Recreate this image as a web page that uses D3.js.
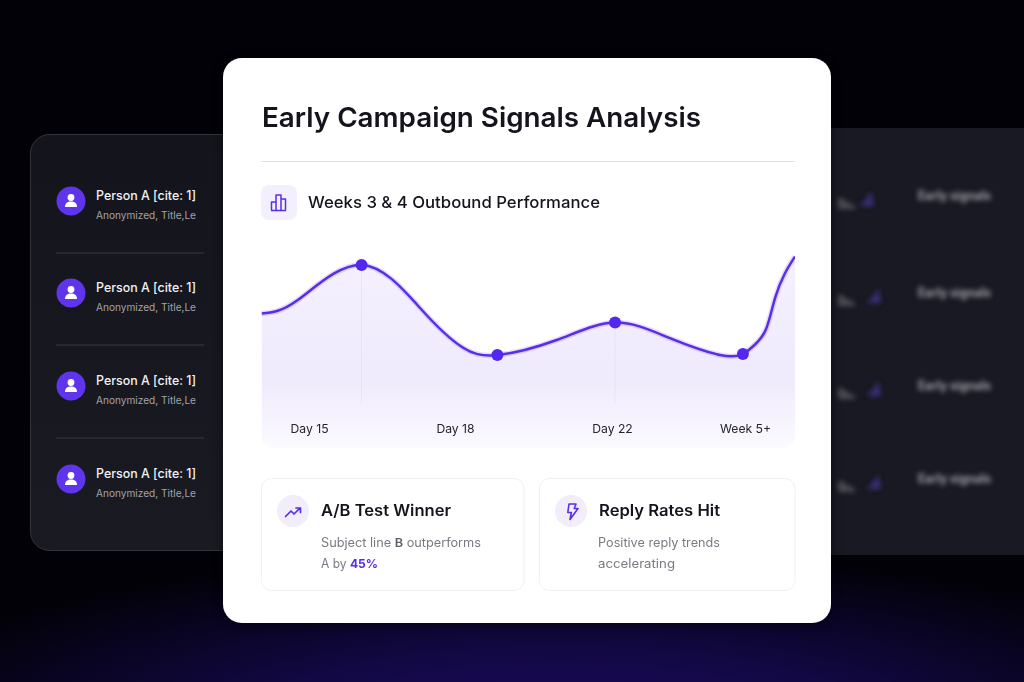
<!DOCTYPE html>
<html>
<head>
<meta charset="utf-8">
<style>
  html, body { margin: 0; padding: 0; background: #000; overflow: hidden; }
  svg { display: block; }
  text { font-family: "Inter", "Noto Sans", sans-serif; }
</style>
<script src="https://cdn.jsdelivr.net/npm/d3@7/dist/d3.min.js"></script>
</head>
<body>
<svg id="page" width="1024" height="682"></svg>
<script>
// Daily signal curve: day position and score (0-100)
const curveDays   = [14.03, 14.77, 16.08, 17.32, 18.17, 19.08, 20.59, 22.16, 25.05, 27.68, 28.89, 29.53, 30.11, 30.58, 31.11, 31.63];
const curveScores = [67.3, 74, 91.5, 69, 50.6, 46.5, 54, 62.7, 54.9, 46.5, 47, 51.8, 59.5, 74.9, 87.5, 95.7];
// Highlighted checkpoints on the curve
const markerDays   = [16.08, 19.08, 22.16, 28.89];
const markerScores = [91.5, 46.5, 62.7, 47];
// Thin guide lines under two of the checkpoints
const guideDays   = [16.08, 22.16];
const guideScores = [91.5, 62.7];
// Axis labels
const tickDays   = [15, 18, 22, 29];
const tickLabels = ["Day 15", "Day 18", "Day 22", "Week 5+"];
// Side panels
const peopleRows = ["Person A [cite: 1]", "Person A [cite: 1]", "Person A [cite: 1]", "Person A [cite: 1]"];
const peopleSub  = "Anonymized, Title,Le";
const signalRows = ["Early signals", "Early signals", "Early signals", "Early signals"];

const PURPLE = "#5a2de6", DOT = "#5427ef", INK = "#14141c";
const svg = d3.select("#page");
const defs = svg.append("defs");

function linearGrad(id, stops, x2 = 0, y2 = 1) {
  const g = defs.append("linearGradient").attr("id", id).attr("x1", 0).attr("y1", 0).attr("x2", x2).attr("y2", y2);
  stops.forEach(s => g.append("stop").attr("offset", s[0]).attr("stop-color", s[1]).attr("stop-opacity", s[2] ?? 1));
}
linearGrad("areaFill", [[0, "#7a4fe8", 0.085], [0.65, "#7a4fe8", 0.115], [0.85, "#7a4fe8", 0.07], [1, "#7a4fe8", 0.025]]);
linearGrad("panelFill", [[0, "#14151c"], [1, "#191a22"]]);
const glow = defs.append("radialGradient").attr("id", "bottomGlow")
  .attr("gradientUnits", "userSpaceOnUse").attr("cx", 0).attr("cy", 0).attr("r", 1)
  .attr("gradientTransform", "translate(560 730) scale(720 180)");
glow.append("stop").attr("offset", 0).attr("stop-color", "#1c0b62");
glow.append("stop").attr("offset", 0.45).attr("stop-color", "#120843");
glow.append("stop").attr("offset", 1).attr("stop-color", "#020107");
defs.append("filter").attr("id", "soft").attr("x", "-30%").attr("y", "-60%").attr("width", "160%").attr("height", "220%")
  .append("feGaussianBlur").attr("stdDeviation", 2.4);
const sh = defs.append("filter").attr("id", "cardShadow").attr("x", "-10%").attr("y", "-10%").attr("width", "120%").attr("height", "120%");
sh.append("feDropShadow").attr("dx", 0).attr("dy", 2).attr("stdDeviation", 5).attr("flood-color", "#000").attr("flood-opacity", 0.5);
defs.append("clipPath").attr("id", "bandClip").append("path")
  .attr("d", "M261 230H795V436a12 12 0 0 1-12 12H273a12 12 0 0 1-12-12Z");

// Text helper: fixes the run length so the line occupies a known width
function label(parent, str, x, y, size, weight, fill, width, anchor) {
  const t = parent.append("text").attr("x", x).attr("y", y).attr("font-size", size)
    .attr("font-weight", weight).attr("fill", fill).text(str);
  if (width) t.attr("textLength", width).attr("lengthAdjust", "spacingAndGlyphs");
  if (anchor) t.attr("text-anchor", anchor);
  return t;
}

// Backdrop
svg.append("rect").attr("width", 1024).attr("height", 682).attr("fill", "#020107");
svg.append("rect").attr("width", 1024).attr("height", 682).attr("fill", "url(#bottomGlow)");

// Right panel, out of focus behind the card
svg.append("rect").attr("x", 800).attr("y", 128).attr("width", 260).attr("height", 427).attr("rx", 3).attr("fill", "#181922");
const right = svg.append("g").attr("filter", "url(#soft)");
const purpleShift = [0, 7, 7, 7];
signalRows.forEach((s, i) => {
  const g = right.append("g").attr("transform", `translate(0,${[196, 293, 386, 479][i]})`);
  label(g, s, 918, 4, 12.5, 700, "#a2a2a9", 73);
  g.append("path").attr("d", "M838 13V2h6V13ZM844 13V6h6V13ZM850 13V9h5V13Z").attr("fill", "#4b4c53");
  g.append("path").attr("d", "M859 10L866 4L871 -5L874 10Z").attr("fill", "#3a2f78")
    .attr("transform", `translate(${purpleShift[i]},0)`);
});

// Left panel with the people list
svg.append("rect").attr("x", 30.5).attr("y", 134.5).attr("width", 260).attr("height", 416).attr("rx", 19)
  .attr("fill", "url(#panelFill)").attr("stroke", "#33343b");
const rowCentres = [201, 293, 386, 479];
peopleRows.forEach((name, i) => {
  const cy = rowCentres[i];
  const g = svg.append("g").attr("transform", `translate(0,${cy})`);
  g.append("circle").attr("cx", 71).attr("cy", 0).attr("r", 14.5).attr("fill", "#5f35ec");
  g.append("circle").attr("cx", 71).attr("cy", -3.5).attr("r", 3.4).attr("fill", "#fff");
  g.append("path").attr("d", "M65 6c0-3.6 2.6-5.4 6-5.4s6 1.8 6 5.4Z").attr("fill", "#fff");
  label(g, name, 96, -1, 12.8, 500, "#f1f1f4", 100);
  label(g, peopleSub, 96, 18, 10.4, 400, "#a3a3ac", 100);
  if (i < 3) g.append("line").attr("x1", 56).attr("x2", 204).attr("y1", 52).attr("y2", 52).attr("stroke", "#393a41");
});

// Main card
svg.append("rect").attr("x", 223).attr("y", 58).attr("width", 608).attr("height", 565).attr("rx", 19)
  .attr("fill", "#fff").attr("filter", "url(#cardShadow)");
label(svg, "Early Campaign Signals Analysis", 262, 127, 27.5, 600, INK, 439);
svg.append("line").attr("x1", 261).attr("x2", 795).attr("y1", 161.5).attr("y2", 161.5).attr("stroke", "#e2e2e6");

// Section heading with bar-chart badge
svg.append("rect").attr("x", 261).attr("y", 185).attr("width", 36).attr("height", 35).attr("rx", 8).attr("fill", "#f3effc");
svg.append("path").attr("d", "M271.5 210v-8h4.5v8M276 210v-15h5v15M281 210v-11h4.5v11M271 210.5h15")
  .attr("fill", "none").attr("stroke", PURPLE).attr("stroke-width", 1.5).attr("stroke-linejoin", "round");
label(svg, "Weeks 3 & 4 Outbound Performance", 308, 208, 16.5, 500, INK, 292);

// Chart: the day axis is piecewise because the checkpoints are unevenly spaced
const x = d3.scaleLinear().domain(tickDays).range([309, 455, 612, 745]);
const y = d3.scaleLinear().domain([0, 100]).range([448, 248]);
const pts = curveDays.map((d, i) => [x(d), y(curveScores[i])]);
const smooth = d3.curveNatural;

const plot = svg.append("g").attr("clip-path", "url(#bandClip)");
plot.append("path")
  .attr("d", d3.area().x(d => d[0]).y0(y(0)).y1(d => d[1]).curve(smooth)(pts))
  .attr("fill", "url(#areaFill)");
guideDays.forEach((d, i) => {
  plot.append("line").attr("x1", x(d)).attr("x2", x(d)).attr("y1", y(guideScores[i])).attr("y2", 405)
    .attr("stroke", "#5a2de6").attr("stroke-opacity", 0.05);
});
const lineGen = d3.line().curve(smooth);
plot.append("path").attr("d", lineGen(pts)).attr("fill", "none").attr("stroke", "#7a4fe8")
  .attr("stroke-opacity", 0.2).attr("stroke-width", 5.5);
plot.append("path").attr("d", lineGen(pts)).attr("fill", "none").attr("stroke", PURPLE).attr("stroke-width", 2.5);
svg.selectAll(".marker").data(markerDays).enter().append("circle").attr("class", "marker")
  .attr("cx", d => x(d)).attr("cy", (d, i) => y(markerScores[i])).attr("r", 6).attr("fill", DOT);

const axis = d3.axisBottom(x).tickValues(tickDays).tickSize(0)
  .tickFormat((d, i) => tickLabels[i]);
const axisG = svg.append("g").attr("transform", "translate(0,420)").call(axis);
axisG.select(".domain").remove();
axisG.selectAll("text").attr("font-family", "Inter, sans-serif").attr("font-size", 12.2).attr("fill", "#24242c").attr("dy", 0).attr("y", 13);

// Summary cards
function summaryCard(cx0, w, title, titleW) {
  svg.append("rect").attr("x", cx0 + .5).attr("y", 478.5).attr("width", w).attr("height", 112).attr("rx", 10)
    .attr("fill", "#fff").attr("stroke", "#f1f0f5");
  svg.append("circle").attr("cx", cx0 + 32).attr("cy", 511).attr("r", 16).attr("fill", "#f1edfb");
  label(svg, title, cx0 + 60, 516, 16, 600, INK, titleW);
}
summaryCard(261, 262.5, "A/B Test Winner", 130);
summaryCard(539, 255.5, "Reply Rates Hit", 121);
svg.append("path").attr("d", "M285.5 516.5l5.5-5.5 3 3 6-6M296 508h4.5v4.5")
  .attr("fill", "none").attr("stroke", PURPLE).attr("stroke-width", 1.7).attr("stroke-linecap", "round").attr("stroke-linejoin", "round");
svg.append("path").attr("d", "M569 504h7l-1.8 4.5h3.8l-8 11 1.4-7h-3.6Z")
  .attr("fill", "none").attr("stroke", PURPLE).attr("stroke-width", 1.6).attr("stroke-linejoin", "round");

const GREY = "#7b7a83";
const l1 = label(svg, "", 321, 547, 12.4, 400, GREY, 160);
l1.append("tspan").text("Subject line ");
l1.append("tspan").attr("font-weight", 600).attr("fill", "#5f5e6a").text("B");
l1.append("tspan").text(" outperforms");
const l2 = label(svg, "", 321, 568, 12.4, 400, GREY, 57);
l2.append("tspan").text("A by ");
l2.append("tspan").attr("font-weight", 700).attr("fill", PURPLE).text("45%");
label(svg, "Positive reply trends", 598, 547, 12.4, 400, GREY, 122);
label(svg, "accelerating", 598, 568, 12.4, 400, GREY, 77);
</script>
</body>
</html>
